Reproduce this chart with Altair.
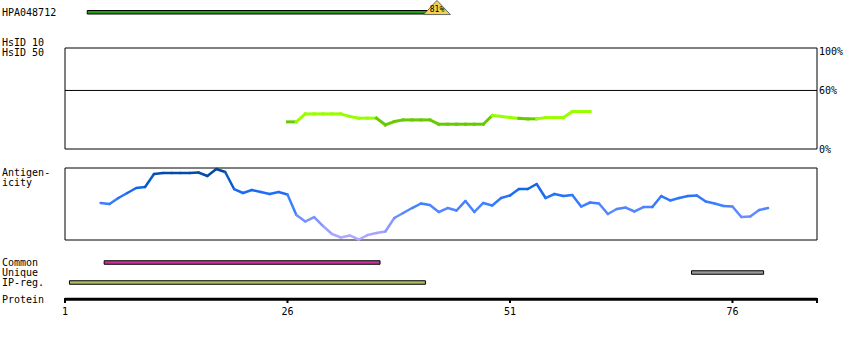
import altair as alt
import pandas as pd

# ---------------- data ----------------
axis_start, axis_end = 1, 85.5
tick_values = [1, 26, 51, 76]
tick_labels = ["1", "26", "51", "76"]

hpa_name = "HPA048712"
hpa_start = 3.5
hpa_end = 42.8
hpa_identity = "81%"

hsid_pos = list(range(26, 61))
hsid_vals = [27.8, 27.8, 36.0, 36.0, 36.0, 36.0, 36.0, 33.4, 31.6, 31.6,
             31.6, 24.7, 28.1, 29.8, 29.8, 29.8, 29.8, 25.4, 25.4, 25.4,
             25.4, 25.4, 25.4, 34.3, 33.4, 32.4, 31.4, 30.9, 30.9, 32.2,
             32.2, 32.2, 38.4, 38.4, 38.4]
hsid_levels = [0, 60, 100]
hsid_level_labels = ["0%", "60%", "100%"]
hsid_top = 103.5

antig_pos = list(range(5, 81))
antig_vals = [0.514, 0.500, 0.583, 0.653, 0.722, 0.736, 0.917, 0.931, 0.931, 0.931,
              0.931, 0.938, 0.889, 0.986, 0.944, 0.708, 0.653, 0.694, 0.667, 0.639,
              0.667, 0.632, 0.347, 0.257, 0.319, 0.194, 0.083, 0.035, 0.063, 0.007,
              0.069, 0.097, 0.118, 0.306, 0.375, 0.444, 0.507, 0.486, 0.389, 0.444,
              0.410, 0.542, 0.389, 0.514, 0.479, 0.583, 0.618, 0.708, 0.708, 0.778,
              0.583, 0.639, 0.611, 0.625, 0.465, 0.521, 0.507, 0.361, 0.431, 0.451,
              0.396, 0.458, 0.458, 0.611, 0.549, 0.583, 0.611, 0.618, 0.535, 0.507,
              0.472, 0.465, 0.319, 0.326, 0.417, 0.444]

track_names = ["Common", "Unique", "IP-reg."]
track_start = [5.4, 71.4, 1.5]
track_end = [36.4, 79.5, 41.5]
track_colors = ["#cc3399", "#999999", "#a8c060"]

FONT = "DejaVu Sans Mono"

# ---------------- helpers ----------------
def segments(pos, vals):
    rows = []
    for i in range(len(pos) - 1):
        rows.append(dict(x=pos[i], x2=pos[i + 1], y=vals[i], y2=vals[i + 1],
                         v=(vals[i] + vals[i + 1]) / 2))
    return pd.DataFrame(rows)

xs = alt.Scale(domain=[axis_start, axis_end], range=[65, 817], nice=False, zero=False)
hsid_y = alt.Scale(domain=[0, hsid_top], range=[149, 48], nice=False, zero=False)
antig_y = alt.Scale(domain=[0, 1], range=[240, 168], nice=False, zero=False)

layers = []

# HPA antigen bar + identity triangle
hpa_df = pd.DataFrame({"start": [hpa_start], "end": [hpa_end], "label": [hpa_identity]})
layers.append(alt.Chart(hpa_df).mark_rect(fill="#2a9a1a", stroke="black", strokeWidth=1).encode(
    x=alt.X("start:Q", scale=xs, axis=None), x2="end:Q",
    y=alt.value(10.5), y2=alt.value(14)))
layers.append(alt.Chart(hpa_df).mark_point(
    shape="M-1,0.53L0,-0.53L1,0.53Z", size=713, filled=True, fill="#f2d44a",
    stroke="#666666", strokeWidth=1, opacity=1).encode(
    x=alt.X("end:Q", scale=xs, axis=None), y=alt.value(7.5)))
layers.append(alt.Chart(hpa_df).mark_text(font=FONT, fontSize=8, baseline="middle",
                                          align="center", color="black").encode(
    x=alt.X("end:Q", scale=xs, axis=None), y=alt.value(10), text="label:N"))

# HsID panel
frame_h = pd.DataFrame({"x": [axis_start], "x2": [axis_end], "y": [0], "y2": [hsid_top]})
layers.append(alt.Chart(frame_h).mark_rect(fillOpacity=0, stroke="black", strokeWidth=1).encode(
    x=alt.X("x:Q", scale=xs, axis=None), x2="x2:Q",
    y=alt.Y("y:Q", scale=hsid_y, axis=None), y2="y2:Q"))
lvl60 = pd.DataFrame({"x": [axis_start], "x2": [axis_end], "y": [60]})
layers.append(alt.Chart(lvl60).mark_rule(color="black", strokeWidth=1).encode(
    x=alt.X("x:Q", scale=xs, axis=None), x2="x2:Q",
    y=alt.Y("y:Q", scale=hsid_y, axis=None)))
lvl_df = pd.DataFrame({"level": hsid_levels, "label": hsid_level_labels, "x": [axis_end] * 3})
layers.append(alt.Chart(lvl_df).mark_text(font=FONT, fontSize=10, align="left",
                                          baseline="middle", dx=2, dy=1, color="black").encode(
    x=alt.X("x:Q", scale=xs, axis=None),
    y=alt.Y("level:Q", scale=hsid_y, axis=None), text="label:N"))
layers.append(alt.Chart(segments(hsid_pos, hsid_vals)).mark_rule(strokeWidth=3, strokeCap="square").encode(
    x=alt.X("x:Q", scale=xs, axis=None), x2="x2:Q",
    y=alt.Y("y:Q", scale=hsid_y, axis=None), y2="y2:Q",
    color=alt.Color("v:Q", scale=alt.Scale(type="threshold", domain=[31.2],
                                           range=["#66cc00", "#99ff00"]), legend=None)))

# Antigenicity panel
frame_a = pd.DataFrame({"x": [axis_start], "x2": [axis_end], "y": [0], "y2": [1]})
layers.append(alt.Chart(frame_a).mark_rect(fillOpacity=0, stroke="black", strokeWidth=1).encode(
    x=alt.X("x:Q", scale=xs, axis=None), x2="x2:Q",
    y=alt.Y("y:Q", scale=antig_y, axis=None), y2="y2:Q"))
layers.append(alt.Chart(segments(antig_pos, antig_vals)).mark_rule(strokeWidth=2.5, strokeCap="round").encode(
    x=alt.X("x:Q", scale=xs, axis=None), x2="x2:Q",
    y=alt.Y("y:Q", scale=antig_y, axis=None), y2="y2:Q",
    color=alt.Color("v:Q", scale=alt.Scale(
        domain=[0, 0.1, 0.3, 0.5, 0.7, 0.85, 1],
        range=["#b4aaff", "#a8a4ff", "#7090ff", "#3a80ff", "#1468f0", "#0858c0", "#004090"]),
        legend=None)))

# Tracks
tracks = pd.DataFrame({"track": track_names, "start": track_start, "end": track_end})
track_y = alt.Scale(type="band", domain=track_names, range=[257.5, 287.5],
                    paddingInner=0, paddingOuter=0)
layers.append(alt.Chart(tracks).mark_bar(size=3.5, stroke="black", strokeWidth=1, opacity=1).encode(
    x=alt.X("start:Q", scale=xs, axis=None), x2="end:Q",
    y=alt.Y("track:N", scale=track_y, axis=None),
    color=alt.Color("track:N", scale=alt.Scale(domain=track_names, range=track_colors), legend=None)))
layers.append(alt.Chart(tracks).mark_text(font=FONT, fontSize=10, align="left",
                                          baseline="middle", color="black").encode(
    x=alt.value(2), y=alt.Y("track:N", scale=track_y, axis=None), text="track:N"))

# Protein axis
axis_df = pd.DataFrame({"x": [axis_start], "x2": [axis_end]})
layers.append(alt.Chart(axis_df).mark_rule(color="black", strokeWidth=3).encode(
    x=alt.X("x:Q", scale=xs, axis=None), x2="x2:Q", y=alt.value(299.3)))
ticks_df = pd.DataFrame({"x": tick_values + [axis_end]})
layers.append(alt.Chart(ticks_df).mark_rule(color="black", strokeWidth=2).encode(
    x=alt.X("x:Q", scale=xs, axis=None), y=alt.value(298), y2=alt.value(303)))
tlab_df = pd.DataFrame({"x": tick_values, "label": tick_labels})
layers.append(alt.Chart(tlab_df).mark_text(font=FONT, fontSize=10, align="center",
                                           baseline="middle", color="black").encode(
    x=alt.X("x:Q", scale=xs, axis=None), y=alt.value(312), text="label:N"))

# Left labels
left_labels = [(hpa_name, 13), ("HsID 10", 42.5), ("HsID 50", 52.5),
               ("Antigen-", 173), ("icity", 183), ("Protein", 299.5)]
for txt, yy in left_labels:
    layers.append(alt.Chart(pd.DataFrame({"t": [txt]})).mark_text(
        font=FONT, fontSize=10, align="left", baseline="middle", color="black").encode(
        x=alt.value(2), y=alt.value(yy), text="t:N"))

chart = alt.layer(*layers).resolve_scale(y="independent", color="independent").properties(
    width=850, height=340, padding=0, autosize=alt.AutoSizeParams(type="none"),
    background="white"
).configure_view(strokeWidth=0)

chart.save("out.html", embed_options={"renderer": "svg", "actions": False})
